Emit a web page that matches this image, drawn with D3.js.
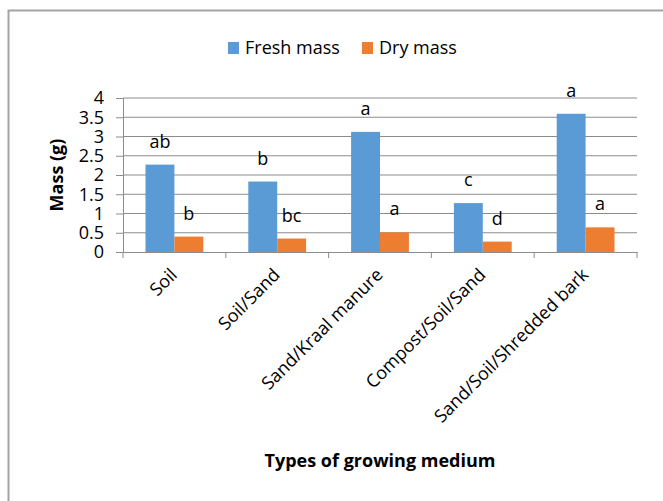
<!DOCTYPE html>
<html>
<head>
<meta charset="utf-8">
<script src="https://cdn.jsdelivr.net/npm/d3@7"></script>
<style>
  body { margin: 0; background: #fff; }
  text { font-family: "Open Sans", sans-serif; fill: #000; }
  .grid line { stroke: #8c8c8c; stroke-width: 1; }
  .axis path, .axis line { stroke: #8c8c8c; }
</style>
</head>
<body>
<script>
var categories = ["Soil", "Soil/Sand", "Sand/Kraal manure", "Compost/Soil/Sand", "Sand/Soil/Shredded bark"];
var freshMass = [2.27, 1.83, 3.12, 1.27, 3.59];
var dryMass = [0.40, 0.35, 0.51, 0.27, 0.64];
var freshLetters = ["ab", "b", "a", "c", "a"];
var dryLetters = ["b", "bc", "a", "d", "a"];
var yTicks = [0, 0.5, 1, 1.5, 2, 2.5, 3, 3.5, 4];
var seriesNames = ["Fresh mass", "Dry mass"];
var colors = ["#5b9bd5", "#ed7d31"];

var W = 663, H = 501;
var margin = { top: 98, right: 26, bottom: 249, left: 123 },
  width = W - margin.left - margin.right,
  height = H - margin.top - margin.bottom;

var svg = d3.select("body").append("svg")
  .attr("width", W)
  .attr("height", H);

// chart border
svg.append("rect")
  .attr("x", 8.5).attr("y", 10.5)
  .attr("width", W + 10).attr("height", H + 10)
  .attr("fill", "none")
  .attr("stroke", "#a3a3a3")
  .attr("stroke-width", 2);

var g = svg.append("g")
  .attr("transform", "translate(" + margin.left + "," + margin.top + ")");

var x0 = d3.scaleBand().domain(categories).range([0, width]).paddingInner(0).paddingOuter(0);
var x1 = d3.scaleBand().domain([0, 1]).range([22.5, x0.bandwidth() - 22.5]);
var y = d3.scaleLinear().domain([0, 4]).range([height, 0]);

// gridlines
g.append("g").attr("class", "grid")
  .selectAll("line").data(yTicks.slice(1)).enter().append("line")
  .attr("x1", 0).attr("x2", width)
  .attr("y1", function (d) { return y(d); })
  .attr("y2", function (d) { return y(d); });

// y axis
var yAxis = g.append("g").attr("class", "axis")
  .call(d3.axisLeft(y).tickValues(yTicks).tickSize(7).tickPadding(12).tickFormat(d3.format("")));
yAxis.selectAll("text").style("font-size", "18px");

// bars
var rows = categories.map(function (c, i) {
  return { cat: c, vals: [freshMass[i], dryMass[i]], letters: [freshLetters[i], dryLetters[i]] };
});

var groups = g.selectAll(".grp").data(rows).enter().append("g")
  .attr("transform", function (d) { return "translate(" + x0(d.cat) + ",0)"; });

groups.selectAll("rect").data(function (d) { return d.vals; }).enter().append("rect")
  .attr("x", function (d, i) { return x1(i); })
  .attr("width", x1.bandwidth())
  .attr("y", function (d) { return y(d); })
  .attr("height", function (d) { return height - y(d); })
  .attr("fill", function (d, i) { return colors[i]; });

groups.selectAll(".lbl").data(function (d) {
  return d.vals.map(function (v, i) { return { v: v, t: d.letters[i] }; });
}).enter().append("text")
  .attr("class", "lbl")
  .attr("x", function (d, i) { return x1(i) + x1.bandwidth() / 2; })
  .attr("y", function (d) { return y(d.v) - 17; })
  .attr("text-anchor", "middle")
  .style("font-size", "18px")
  .text(function (d) { return d.t; });

// x axis
var xAxis = g.append("g").attr("class", "axis")
  .attr("transform", "translate(0," + height + ")")
  .call(d3.axisBottom(x0).tickSize(0).tickFormat(""));
xAxis.selectAll(".sep").data(d3.range(categories.length + 1)).enter().append("line")
  .attr("class", "sep")
  .attr("x1", function (i) { return i * x0.bandwidth(); })
  .attr("x2", function (i) { return i * x0.bandwidth(); })
  .attr("y1", 0).attr("y2", 6);

xAxis.selectAll(".xl").data(categories).enter().append("text")
  .attr("class", "xl")
  .attr("transform", function (d) {
    return "translate(" + (x0(d) + x0.bandwidth() / 2 - 5) + ",15) rotate(-45)";
  })
  .attr("text-anchor", "end")
  .attr("dy", "0.7em")
  .style("font-size", "18px")
  .text(function (d) { return d; });

// axis titles
svg.append("text")
  .attr("transform", "translate(63," + (margin.top + height / 2) + ") rotate(-90)")
  .attr("text-anchor", "middle")
  .style("font-size", "18px")
  .style("font-weight", "bold")
  .text("Mass (g)");

svg.append("text")
  .attr("x", 380).attr("y", 467)
  .attr("text-anchor", "middle")
  .style("font-size", "18px")
  .style("font-weight", "bold")
  .text("Types of growing medium");

// legend
var legX = [228, 362];
var leg = svg.selectAll(".leg").data(seriesNames).enter().append("g")
  .attr("transform", function (d, i) { return "translate(" + legX[i] + ",42)"; });
leg.append("rect").attr("width", 11).attr("height", 12)
  .attr("fill", function (d, i) { return colors[i]; });
leg.append("text").attr("x", 17).attr("y", 12)
  .style("font-size", "18px")
  .text(function (d) { return d; });
</script>
</body>
</html>
